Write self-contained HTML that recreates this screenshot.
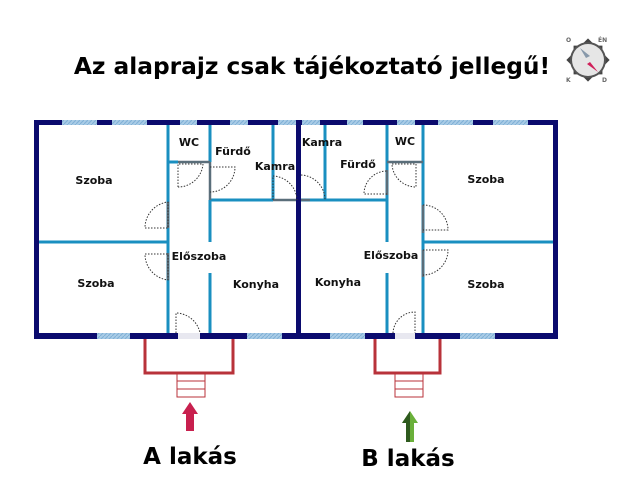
<!DOCTYPE html>
<html><head><style>body{margin:0;background:#fff}svg{display:block}</style></head><body>
<svg width="640" height="485" viewBox="0 0 640 485" xmlns="http://www.w3.org/2000/svg" font-family="DejaVu Sans, Liberation Sans, sans-serif" font-weight="bold">
<defs><pattern id="h" width="4" height="4" patternUnits="userSpaceOnUse"><rect width="4" height="4" fill="#a9cce6"/><path d="M0 4L4 0" stroke="#7fb0d6" stroke-width="1"/></pattern></defs>
<text x="312" y="74" font-size="23.3" text-anchor="middle" fill="#000">Az alaprajz csak tájékoztató jellegű!</text>
<!-- compass -->
<g transform="translate(588,60)">
<path d="M0,-24 L6,-18 18,-18 18,-6 24,0 18,6 18,18 6,18 0,24 -6,18 -18,18 -18,6 -24,0 -18,-6 -18,-18 -6,-18Z" fill="#444" transform="rotate(45) scale(0.85)"/>
<circle r="18" fill="#555"/><circle r="16" fill="#e6e6e6"/>
<path d="M-2,-2 L-8,-12 2,-4Z" fill="#8899aa"/><path d="M2,2 L10,12 -1,4Z" fill="#d0205a"/>
<text x="-22" y="-18" font-size="6" fill="#666">O</text><text x="10" y="-18" font-size="6" fill="#666">ÉN</text>
<text x="-22" y="22" font-size="6" fill="#666">K</text><text x="14" y="22" font-size="6" fill="#666">D</text>
</g>
<!-- outer walls -->
<g fill="#0b0b6e">
<rect x="34" y="120" width="524" height="5"/>
<rect x="34" y="333" width="524" height="6"/>
<rect x="34" y="120" width="5" height="219"/>
<rect x="553" y="120" width="5" height="219"/>
<rect x="296" y="120" width="5" height="219"/>
</g>
<g fill="url(#h)">
<rect x="62" y="120" width="35" height="5"/><rect x="112" y="120" width="35" height="5"/><rect x="180" y="120" width="17" height="5"/><rect x="230" y="120" width="18" height="5"/><rect x="278" y="120" width="18" height="5"/>
<rect x="302" y="120" width="18" height="5"/><rect x="347" y="120" width="16" height="5"/><rect x="397" y="120" width="18" height="5"/><rect x="438" y="120" width="35" height="5"/><rect x="493" y="120" width="35" height="5"/>
<rect x="97" y="333" width="33" height="6"/><rect x="247" y="333" width="35" height="6"/><rect x="330" y="333" width="35" height="6"/><rect x="460" y="333" width="35" height="6"/>
</g>
<rect x="178" y="333" width="22" height="6" fill="#e8e8f0"/><rect x="395" y="333" width="20" height="6" fill="#e8e8f0"/>
<!-- interior walls -->
<g stroke="#1a8fc0" stroke-width="3" fill="none">
<path d="M168 125V333M210 125V162M210 200V242M210 273V333M168 162H178M210 200H273M273 125V200M39 242H168"/>
<path d="M325 125V200M301 200H387M387 125V242M387 273V333M423 125V333M423 242H553"/>
</g>
<g stroke="#5a6e7a" stroke-width="2.5" fill="none">
<path d="M178 162H210M210 162V200M273 200H296M301 200H310M387 162H423M168 202V228M168 253V280M423 205V233M423 250V277M387 170V195"/>
</g>
<!-- doors -->
<g stroke="#333" stroke-width="1" stroke-dasharray="1.5,1.5" fill="none">
<path d="M178 187V164H203A25 25 0 0 1 178 187"/>
<path d="M210 167H235A25 25 0 0 1 210 192"/>
<path d="M145 228H168V202A26 26 0 0 0 145 228"/>
<path d="M145 254H168V280A26 26 0 0 1 145 254"/>
<path d="M176 333V313A25 25 0 0 1 200 333"/>
<path d="M273 200V176A25 25 0 0 1 297 200"/>
<path d="M301 175A25 25 0 0 1 325 200"/>
<path d="M387 194H364A23 23 0 0 1 387 171"/>
<path d="M392 164H416V187A24 24 0 0 1 392 164"/>
<path d="M423 205A25 25 0 0 1 448 230H423"/>
<path d="M423 250H448A25 25 0 0 1 423 275"/>
<path d="M393 333A22 22 0 0 1 415 312V333"/>
</g>
<!-- labels -->
<g font-size="11" fill="#111" text-anchor="middle">
<text x="94" y="184">Szoba</text><text x="96" y="287">Szoba</text><text x="189" y="146">WC</text><text x="233" y="155">Fürdő</text><text x="275" y="170">Kamra</text><text x="199" y="260">Előszoba</text><text x="256" y="288">Konyha</text>
<text x="322" y="146">Kamra</text><text x="358" y="168">Fürdő</text><text x="405" y="145">WC</text><text x="391" y="259">Előszoba</text><text x="338" y="286">Konyha</text><text x="486" y="183">Szoba</text><text x="486" y="288">Szoba</text>
</g>
<!-- porches -->
<g stroke="#b8323a" fill="none">
<path d="M145 339V373H233V339" stroke-width="3"/>
<path d="M177 373V397H205V373M177 381H205M177 389H205" stroke-width="1"/>
<path d="M375 339V373H440V339" stroke-width="3"/>
<path d="M395 373V397H423V373M395 381H423M395 389H423" stroke-width="1"/>
</g>
<path d="M190 402L198 414H194V431H186V414H182Z" fill="#c8204e"/>
<path d="M410 411L418 423H414V442H406V423H402Z" fill="#6ab03a"/>
<path d="M410 411L402 423H406V442H410Z" fill="#2e5a1e"/>
<g font-size="23" fill="#000" text-anchor="middle">
<text x="190" y="464">A lakás</text><text x="408" y="466">B lakás</text>
</g>
</svg>
</body></html>
